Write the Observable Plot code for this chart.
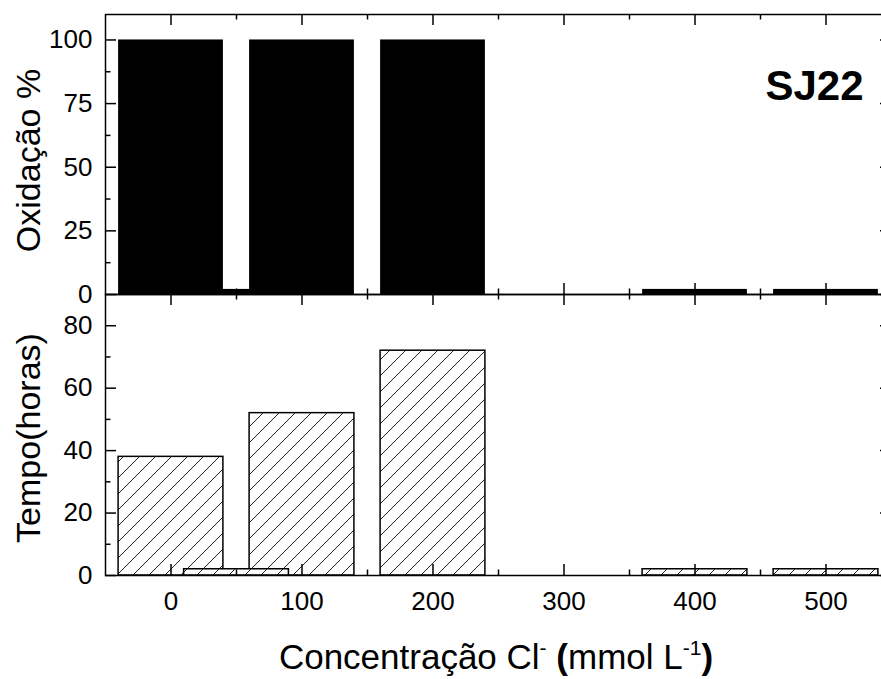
<!DOCTYPE html>
<html>
<head>
<meta charset="utf-8">
<script src="https://cdn.jsdelivr.net/npm/d3@7"></script>
<script src="https://cdn.jsdelivr.net/npm/@observablehq/plot@0.6"></script>
<style>
  html, body { margin: 0; padding: 0; background: #fff; overflow: hidden; width: 881px; height: 679px; }
  #wrap { position: relative; width: 881px; height: 679px; overflow: hidden; font-family: "Liberation Sans", Arial, sans-serif; }
  #top, #bottom { position: absolute; left: 0; }
  #top { top: 0; }
  #bottom { top: 292px; }
  #xtitle { position: absolute; left: 0; top: 640px; width: 992px; text-align: center; font-size: 35px; line-height: 34px; color: #000; white-space: nowrap; }
  .sup { font-size: 21px; position: relative; }
</style>
</head>
<body>
<div id="wrap">
  <div id="top"></div>
  <div id="bottom"></div>
  <div id="xtitle">Concentração Cl<span class="sup" style="top:-14px">-</span> <b>(</b>mmol L<span class="sup" style="top:-14px">-1</span><b>)</b></div>
</div>
<script>
// ---- data ----
const concentrations = [0, 100, 200, 300, 400, 500];
const oxidacao = [100, 100, 100, 0, 2, 2];
const tempo = [38, 52, 72, 0, 2, 2];
const extraConcentrations = [50];
const extraOxidacao = [2];
const extraTempo = [2];

const xMajorTicks = [0, 100, 200, 300, 400, 500];
const xMinorTicks = [50, 150, 250, 350, 450];
const yTopMajorTicks = [0, 25, 50, 75, 100];
const yTopMinorTicks = [12.5, 37.5, 62.5, 87.5];
const yBottomMajorTicks = [0, 20, 40, 60, 80];
const yBottomMinorTicks = [10, 30, 50, 70];

const topRows = concentrations.map((c, i) => ({c, v: oxidacao[i]}));
const topExtra = extraConcentrations.map((c, i) => ({c, v: extraOxidacao[i]}));
const bottomRows = concentrations.map((c, i) => ({c, v: tempo[i]}));
const bottomExtra = extraConcentrations.map((c, i) => ({c, v: extraTempo[i]}));

// ---- layout ----
const W = 892, ML = 105, MR = 1;
const plotW = W - ML - MR;
const halfBar = 40;
const majorLen = 11, minorLen = 5.5;
const font = "'Liberation Sans', Arial, sans-serif";
const baseStyle = {fontFamily: font, fontSize: "26px", color: "black", background: "transparent", maxWidth: "none", overflow: "visible"};

function tickMarks(xMaj, xMin, yMaj, yMin, plotH) {
  const s = {stroke: "black", strokeWidth: 1.5};
  return [
    Plot.tickX(xMaj, {x: d => d, insetTop: plotH - majorLen, ...s}),
    Plot.tickX(xMaj, {x: d => d, insetBottom: plotH - majorLen, ...s}),
    Plot.tickX(xMin, {x: d => d, insetTop: plotH - minorLen, ...s}),
    Plot.tickX(xMin, {x: d => d, insetBottom: plotH - minorLen, ...s}),
    Plot.tickY(yMaj, {y: d => d, insetRight: plotW - majorLen, ...s}),
    Plot.tickY(yMaj, {y: d => d, insetLeft: plotW - majorLen, ...s}),
    Plot.tickY(yMin, {y: d => d, insetRight: plotW - minorLen, ...s}),
    Plot.tickY(yMin, {y: d => d, insetLeft: plotW - minorLen, ...s})
  ];
}

// ---- top panel ----
const topH = 296, topMT = 14, topMB = 2;
const topPlotH = topH - topMT - topMB;
const topChart = Plot.plot({
  width: W, height: topH,
  marginLeft: ML, marginRight: MR, marginTop: topMT, marginBottom: topMB,
  x: {domain: [-50, 550], axis: null},
  y: {domain: [0, 110], axis: "left", ticks: yTopMajorTicks, tickSize: 0, tickPadding: 13, label: null},
  style: baseStyle,
  marks: [
    Plot.rectY(topRows, {x1: d => d.c - halfBar, x2: d => d.c + halfBar, y1: 0, y2: "v", fill: "black"}),
    Plot.rectY(topExtra, {x1: d => d.c - halfBar, x2: d => d.c + halfBar, y1: 0, y2: "v", fill: "black"}),
    Plot.frame({stroke: "black", strokeWidth: 1.5}),
    ...tickMarks(xMajorTicks, xMinorTicks, yTopMajorTicks, yTopMinorTicks, topPlotH),
    Plot.text(["Oxidação %"], {text: d => d, frameAnchor: "left", textAnchor: "middle", lineAnchor: "middle", dx: -76, dy: 6, rotate: -90, fontSize: 34, fill: "black"}),
    Plot.text(["SJ22"], {text: d => d, frameAnchor: "top-right", textAnchor: "end", lineAnchor: "top", dx: -28, dy: 56, fontSize: 42, fontWeight: "bold", fill: "black"})
  ]
});
document.getElementById("top").appendChild(topChart);

// ---- bottom panel ----
const botH = 387, botMT = 2, botMB = 104;
const botPlotH = botH - botMT - botMB;
const bottomChart = Plot.plot({
  width: W, height: botH,
  marginLeft: ML, marginRight: MR, marginTop: botMT, marginBottom: botMB,
  x: {domain: [-50, 550], axis: "bottom", ticks: xMajorTicks, tickSize: 0, tickPadding: 16, label: null},
  y: {domain: [0, 90], axis: "left", ticks: yBottomMajorTicks, tickSize: 0, tickPadding: 13, label: null},
  style: baseStyle,
  marks: [
    Plot.rectY(bottomRows.filter(d => d.v > 0), {x1: d => d.c - halfBar, x2: d => d.c + halfBar, y1: 0, y2: "v", fill: "url(#hatch)", stroke: "black", strokeWidth: 1.5}),
    Plot.rectY(bottomExtra, {x1: d => d.c - halfBar, x2: d => d.c + halfBar, y1: 0, y2: "v", fill: "url(#hatch)", stroke: "black", strokeWidth: 1.5}),
    Plot.frame({stroke: "black", strokeWidth: 1.5}),
    ...tickMarks(xMajorTicks, xMinorTicks, yBottomMajorTicks, yBottomMinorTicks, botPlotH),
    Plot.text(["Tempo(horas)"], {text: d => d, frameAnchor: "left", textAnchor: "middle", lineAnchor: "middle", dx: -76, dy: 3, rotate: -90, fontSize: 34, fill: "black"})
  ]
});
const defs = d3.select(bottomChart).insert("defs", ":first-child");
const pat = defs.append("pattern").attr("id", "hatch").attr("patternUnits", "userSpaceOnUse").attr("width", 16).attr("height", 16);
pat.append("rect").attr("width", 16).attr("height", 16).attr("fill", "white");
pat.append("path").attr("d", "M-4,4 L4,-4 M0,16 L16,0 M12,20 L20,12").attr("stroke", "#222").attr("stroke-width", 1).attr("fill", "none");
document.getElementById("bottom").appendChild(bottomChart);
</script>
</body>
</html>
